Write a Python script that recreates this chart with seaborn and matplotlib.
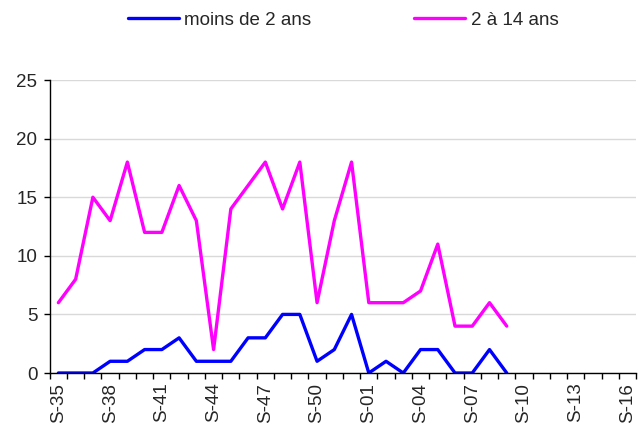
import numpy as np
import pandas as pd
import matplotlib
matplotlib.use('Agg')
import matplotlib.pyplot as plt
import seaborn as sns

# semaines S-35 .. S-52 puis S-01 .. S-16
weeks = [f"S-{w}" for w in range(35, 53)] + [f"S-{w:02d}" for w in range(1, 17)]

moins_2_ans = [0, 0, 0, 1, 1, 2, 2, 3, 1, 1, 1, 3, 3, 5, 5, 1, 2, 5,
               0, 1, 0, 2, 2, 0, 0, 2, 0]
de_2_a_14_ans = [6, 8, 15, 13, 18, 12, 12, 16, 13, 2, 14, 16, 18, 14, 18, 6, 13, 18,
                 6, 6, 6, 7, 11, 4, 4, 6, 4]

series_names = ["moins de 2 ans", "2 à 14 ans"]
series_colors = ["#0000FF", "#FF00FF"]

df = pd.DataFrame({
    "pos": list(range(len(moins_2_ans))) * 2,
    "week": weeks[:len(moins_2_ans)] * 2,
    "value": moins_2_ans + de_2_a_14_ans,
    "serie": [series_names[0]] * len(moins_2_ans) + [series_names[1]] * len(de_2_a_14_ans),
})

sns.set_style("white")
plt.rcParams['font.family'] = ['Liberation Sans', 'DejaVu Sans']

fig = plt.figure(figsize=(6.38, 4.28), dpi=100)
ax = fig.add_axes([0.078, 0.1285, 0.919, 0.6845])

sns.lineplot(data=df, x="pos", y="value", hue="serie", hue_order=series_names,
             palette=series_colors, linewidth=2.4, ax=ax, legend=False)

ax.set_xlim(-0.5, len(weeks) - 0.5)
ax.set_ylim(0, 25)
ax.set_yticks([0, 5, 10, 15, 20, 25])
ax.yaxis.grid(True, color="#d9d9d9", linewidth=1)
ax.set_axisbelow(True)

major = list(range(0, len(weeks), 3))
ax.set_xticks(major)
ax.set_xticklabels([weeks[i] for i in major], rotation=90, fontsize=13.5)
ax.set_xticks(np.arange(-0.5, len(weeks)), minor=True)
ax.tick_params(axis="x", which="major", length=0, pad=7)
ax.tick_params(axis="x", which="minor", length=4, width=1, color="black", direction="out")
ax.tick_params(axis="y", length=4, width=1, color="black", direction="out",
               labelsize=13.5, pad=5)
ax.xaxis.set_ticks_position("bottom")
ax.yaxis.set_ticks_position("left")

for s in ["top", "right"]:
    ax.spines[s].set_visible(False)
for s in ["left", "bottom"]:
    ax.spines[s].set_color("black")
    ax.spines[s].set_linewidth(1)

ax.set_xlabel("")
ax.set_ylabel("")

handles = [plt.Line2D([], [], color=c, linewidth=2.4) for c in series_colors]
fig.legend(handles, series_names, loc="center", bbox_to_anchor=(0.538, 0.953),
           ncol=2, frameon=False, fontsize=13.5, handlelength=2.7,
           handletextpad=0.3, columnspacing=5.5)

fig.savefig("out.png", dpi=100)
